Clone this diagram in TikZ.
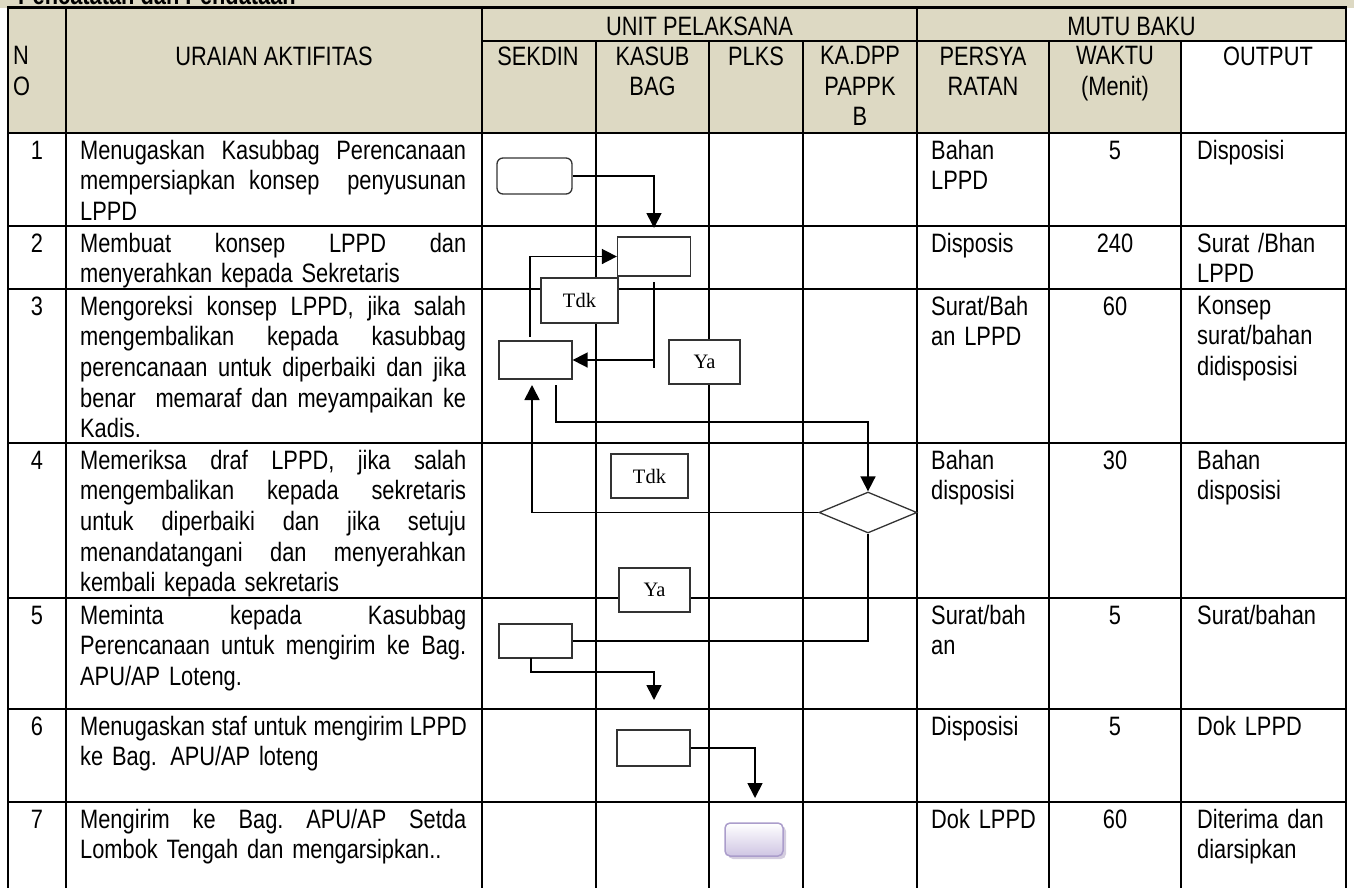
\documentclass[tikz,border=0pt]{standalone}
\usepackage{fontspec}
\setmainfont{Liberation Sans}[FakeStretch=0.82]
\newfontfamily\tnrfont{Liberation Serif}
\usetikzlibrary{arrows.meta,shapes.geometric,shadows}
\definecolor{beige}{HTML}{DDD9C3}
\definecolor{lavb}{HTML}{AB9DCB}
\definecolor{lavf}{HTML}{CFC5E3}
\definecolor{lavs}{HTML}{A99CBF}
\newcommand\jline[1]{\leavevmode\hbox to 386pt{\spaceskip=0.25em plus 1fil\xspaceskip=0.25em plus 1fil\relax #1}}
\begin{document}
\begin{tikzpicture}[x=1pt,y=-1pt,
  gridline/.style={line width=2.2pt,black},
  flow/.style={line width=1.7pt,black},
  arr/.style={flow,-{Triangle[length=15pt,width=15pt]}},
  procbox/.style={draw=black!80,line width=1.3pt,fill=white,inner sep=0pt,minimum width=73pt,minimum height=38pt},
  lblbox/.style={draw=black!80,line width=1.3pt,fill=white,inner sep=0pt,font=\tnrfont\fontsize{20.5}{20.5}\selectfont},
  bodytxt/.style={anchor=north west,inner sep=0pt,text width=386pt,align=left,font=\fontsize{26.6}{30.6}\selectfont},
  coltxt/.style={anchor=north west,inner sep=0pt,text width=150pt,align=left,font=\fontsize{26.6}{30.6}\selectfont},
  numtxt/.style={anchor=base,inner sep=0pt,font=\fontsize{26.6}{30.6}\selectfont},
  headtxt/.style={anchor=north,inner sep=0pt,align=center,font=\fontsize{26.6}{30.5}\selectfont},
  headone/.style={anchor=base,inner sep=0pt,font=\fontsize{26.6}{30.5}\selectfont},
]
\useasboundingbox (0,0) rectangle (1354,887);
\clip (0,0) rectangle (1354,887);
% backgrounds
\fill[beige] (0,0) rectangle (1354,8);
\fill[beige] (8,8) rectangle (1346,133);
\fill[white] (1181,41) rectangle (1346,133);
\node[anchor=base west,inner sep=0pt,font=\bfseries\fontsize{26.6}{26.6}\selectfont] (title) at (18,4.5) {Pencatatan dan Pendataan};
% grid
\foreach \x in {8,66,482,917,1346} \draw[gridline] (\x,7.5) -- (\x,892);
\foreach \x in {596,709,803,1049,1181} \draw[gridline] (\x,41) -- (\x,892);
\draw[gridline] (7,7.5) -- (1347,7.5);
\draw[gridline] (482,41) -- (1347,41);
\foreach \y in {133,226,289,443,598,709,802} \draw[gridline] (7,\y) -- (1347,\y);
% header
\node[headtxt,anchor=north west,align=left] (hno) at (13,46.3) {N\\O};
\node[headtxt] (hur) at (274,46.3) {URAIAN AKTIFITAS};
\node[headone] (hup) at (699.5,35) {UNIT PELAKSANA};
\node[headone] (hmb) at (1131.5,35) {MUTU BAKU};
\node[headtxt] (hsek) at (538,46.3) {SEKDIN};
\node[headtxt] (hkas) at (652.5,46.3) {KASUB\\BAG};
\node[headtxt] (hplk) at (756,46.3) {PLKS};
\node[headtxt] (hka) at (860,46.3) {KA.DPP\\PAPPK\\B};
\node[headtxt] (hper) at (983,46.3) {PERSYA\\RATAN};
\node[headtxt] (hwak) at (1115,46.3) {WAKTU\\(Menit)};
\node[headtxt] (hout) at (1268,46.3) {OUTPUT};
% numbers
\foreach \n/\t in {1/133,2/226,3/289,4/443,5/598,6/709,7/802}
  \node[numtxt] (no\n) at (37,\t+26) {\n};
% waktu
\foreach \n/\t/\v in {1/133/5,2/226/240,3/289/60,4/443/30,5/598/5,6/709/5,7/802/60}
  \node[numtxt] (wk\n) at (1115,\t+26) {\v};
% uraian
\node[bodytxt] (u1) at (80,139.8) {\jline{Menugaskan Kasubbag Perencanaan}\\\jline{mempersiapkan konsep\ \ penyusunan}\\LPPD};
\node[bodytxt] (u2) at (80,232.8) {\jline{Membuat konsep LPPD dan}\\menyerahkan kepada Sekretaris};
\node[bodytxt] (u3) at (80,295.8) {\jline{Mengoreksi konsep LPPD, jika salah}\\\jline{mengembalikan kepada kasubbag}\\\jline{perencanaan untuk diperbaiki dan jika}\\\jline{benar\ \ memaraf dan meyampaikan ke}\\Kadis.};
\node[bodytxt] (u4) at (80,449.8) {\jline{Memeriksa draf LPPD, jika salah}\\\jline{mengembalikan kepada sekretaris}\\\jline{untuk diperbaiki dan jika setuju}\\\jline{menandatangani dan menyerahkan}\\kembali kepada sekretaris};
\node[bodytxt] (u5) at (80,604.8) {\jline{Meminta kepada Kasubbag}\\\jline{Perencanaan untuk mengirim ke Bag.}\\APU/AP Loteng.};
\node[bodytxt] (u6) at (80,715.8) {\jline{Menugaskan staf untuk mengirim LPPD}\\ke Bag. APU/AP loteng};
\node[bodytxt] (u7) at (80,808.8) {\jline{Mengirim ke Bag. APU/AP Setda}\\Lombok Tengah dan mengarsipkan..};
% persyaratan
\node[coltxt] (p1) at (931,139.8) {Bahan\\LPPD};
\node[coltxt] (p2) at (931,232.8) {Disposis};
\node[coltxt] (p3) at (931,295.8) {Surat/Bah\\an LPPD};
\node[coltxt] (p4) at (931,449.8) {Bahan\\disposisi};
\node[coltxt] (p5) at (931,604.8) {Surat/bah\\an};
\node[coltxt] (p6) at (931,715.8) {Disposisi};
\node[coltxt] (p7) at (931,808.8) {Dok LPPD};
% output
\node[coltxt] (o1) at (1197,139.8) {Disposisi};
\node[coltxt] (o2) at (1197,232.8) {Surat /Bhan\\LPPD};
\node[coltxt] (o3) at (1197,295.8) {Konsep\\surat/bahan\\didisposisi};
\node[coltxt] (o4) at (1197,449.8) {Bahan\\disposisi};
\node[coltxt] (o5) at (1197,604.8) {Surat/bahan};
\node[coltxt] (o6) at (1197,715.8) {Dok LPPD};
\node[coltxt] (o7) at (1197,808.8) {Diterima dan\\diarsipkan};
% flow shapes
\node[procbox,rounded corners=6pt,minimum width=75pt,minimum height=36pt] (s1) at (534.5,176) {};
\node[procbox,minimum height=39pt] (b2) at (654,256.5) {};
\node[procbox] (b3) at (535.5,360) {};
\node[diamond,draw=black!80,line width=1.3pt,fill=white,inner sep=0pt,minimum width=98pt,minimum height=41pt] (d4) at (868,512.5) {};
\node[procbox,minimum height=34pt] (b5) at (535.5,641) {};
\node[procbox,minimum height=36pt] (b6) at (653.5,748) {};
\node[rounded corners=5pt,draw=lavb,line width=1.5pt,top color=white,bottom color=lavf,minimum width=58pt,minimum height=33pt,inner sep=0pt,drop shadow={shadow xshift=3pt,shadow yshift=-3pt,fill=lavs}] (e7) at (754,839.5) {};
% labels
\node[lblbox,minimum width=77pt,minimum height=45pt] (tdk1) at (579.5,300.5) {Tdk};
\node[lblbox,minimum width=71pt,minimum height=44pt] (ya1) at (704.5,362) {Ya};
\node[lblbox,minimum width=77pt,minimum height=44pt] (tdk2) at (649.5,476) {Tdk};
\node[lblbox,minimum width=71pt,minimum height=44pt] (ya2) at (654.5,590) {Ya};
% connector coordinates
\coordinate (c1) at (654,228);
\coordinate (c2) at (530,337);
\coordinate (c3) at (654,282);
\coordinate (c3b) at (654,368);
\coordinate (c3m) at (654,360);
\coordinate (c4) at (556,385);
\coordinate (c5) at (556,422);
\coordinate (c6) at (532,385);
\coordinate (c7) at (531,658);
\coordinate (c8) at (531,672);
\coordinate (c9) at (654,700);
\coordinate (c10) at (755,798);
% connectors
\draw[arr] (s1.east) -| (c1);
\draw[arr] (c2) |- (b2.west);
\draw[flow] (c3) -- (c3b);
\draw[arr] (c3m) -- (b3.east);
\draw[arr] (c4) -- (c5) -| (d4.north);
\draw[arr] (d4.west) -| (c6);
\draw[flow] (d4.south) |- (b5.east);
\draw[arr] (c7) -- (c8) -| (c9);
\draw[arr] (b6.east) -| (c10);
\end{tikzpicture}
\end{document}
